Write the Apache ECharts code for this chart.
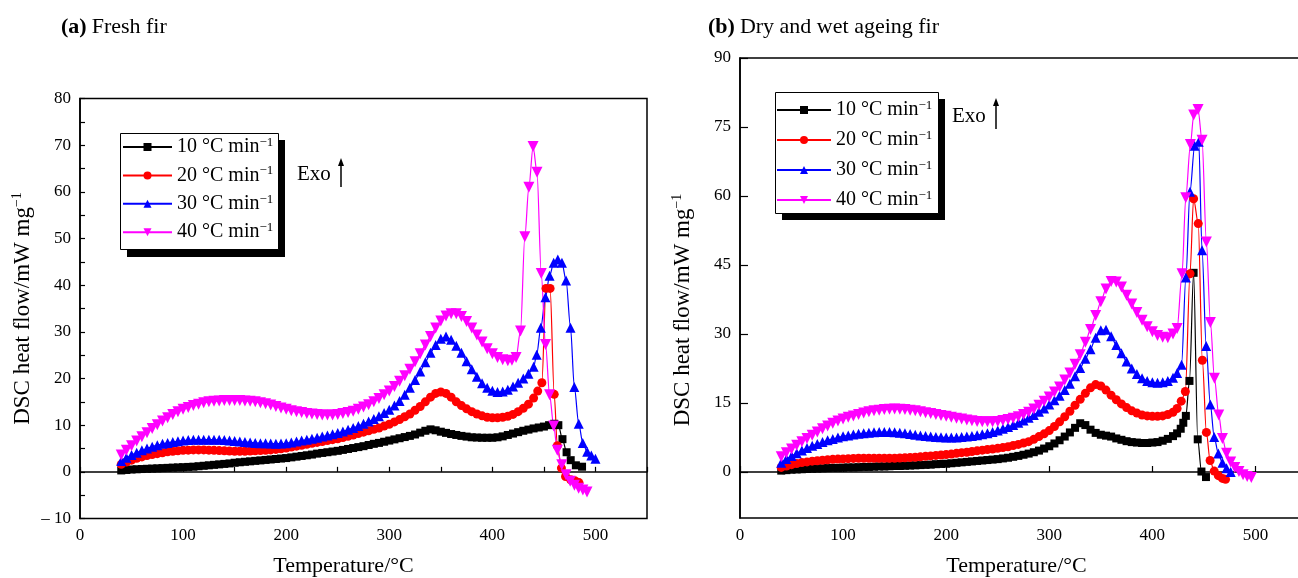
<!DOCTYPE html>
<html><head><meta charset="utf-8">
<script src="https://cdn.jsdelivr.net/npm/echarts@6/dist/echarts.min.js"></script>
<style>html,body{margin:0;padding:0;background:#fff}#c{width:1298px;height:578px}</style>
</head><body><div id="c"></div>
<script>
const rates = ['10 °C min−1', '20 °C min−1', '30 °C min−1', '40 °C min−1'];
const panelTitles = [['(a)', 'Fresh fir'], ['(b)', 'Dry and wet ageing fir']];
const xName = 'Temperature/°C';
const yName = 'DSC heat flow/mW mg';

// (a) Fresh fir  [temperature °C, heat flow mW/mg]
const fresh10 = [[40,0.3],[45,0.4],[50,0.5],[55,0.55],[60,0.6],[65,0.65],[70,0.7],[75,0.75],[80,0.8],[85,0.85],[90,0.9],[95,0.95],[100,1.0],[105,1.05],[110,1.1],[115,1.2],[120,1.3],[125,1.4],[130,1.5],[135,1.6],[140,1.7],[145,1.8],[150,1.95],[155,2.05],[160,2.15],[165,2.25],[170,2.35],[175,2.45],[180,2.55],[185,2.65],[190,2.75],[195,2.85],[200,2.95],[205,3.1],[210,3.25],[215,3.4],[220,3.55],[225,3.7],[230,3.9],[235,4.05],[240,4.2],[245,4.35],[250,4.5],[255,4.7],[260,4.9],[265,5.1],[270,5.3],[275,5.5],[280,5.75],[285,6.0],[290,6.2],[295,6.45],[300,6.7],[305,6.95],[310,7.2],[315,7.45],[320,7.7],[325,8.0],[330,8.4],[335,8.8],[340,9.1],[345,8.9],[350,8.6],[355,8.35],[360,8.1],[365,7.9],[370,7.7],[375,7.55],[380,7.4],[385,7.35],[390,7.3],[395,7.3],[400,7.3],[405,7.4],[410,7.6],[415,7.9],[420,8.2],[425,8.5],[430,8.8],[435,9.05],[440,9.3],[445,9.5],[450,9.7],[455,10.0],[460,10.3],[464,10.0],[468,7.0],[472,4.2],[476,2.5],[481,1.4],[487,1.1]];
const fresh20 = [[40,1.6],[45,2.1],[50,2.5],[55,2.9],[60,3.2],[65,3.5],[70,3.7],[75,3.9],[80,4.1],[85,4.3],[90,4.4],[95,4.5],[100,4.6],[105,4.65],[110,4.7],[115,4.7],[120,4.7],[125,4.65],[130,4.6],[135,4.55],[140,4.5],[145,4.45],[150,4.4],[155,4.4],[160,4.4],[165,4.45],[170,4.5],[175,4.55],[180,4.6],[185,4.7],[190,4.8],[195,4.95],[200,5.1],[205,5.3],[210,5.5],[215,5.7],[220,5.9],[225,6.1],[230,6.3],[235,6.5],[240,6.7],[245,6.9],[250,7.1],[255,7.35],[260,7.6],[265,7.9],[270,8.2],[275,8.5],[280,8.8],[285,9.1],[290,9.4],[295,9.8],[300,10.2],[305,10.7],[310,11.2],[315,11.8],[320,12.4],[325,13.2],[330,14.0],[335,15.0],[340,16.0],[345,16.8],[350,17.1],[355,16.8],[360,16.0],[365,15.0],[370,14.2],[375,13.5],[380,12.9],[385,12.4],[390,12.0],[395,11.7],[400,11.6],[405,11.6],[410,11.7],[415,11.9],[420,12.3],[425,12.9],[430,13.6],[435,14.5],[440,15.8],[444,17.3],[448,19.1],[452,39.3],[456,39.3],[460,16.6],[463,5.6],[467,0.8],[471,-1.0],[476,-1.7],[480,-1.9],[484,-2.3]];
const fresh30 = [[40,2.3],[45,3.0],[50,3.6],[55,4.1],[60,4.6],[65,5.0],[70,5.4],[75,5.7],[80,6.0],[85,6.2],[90,6.4],[95,6.55],[100,6.7],[105,6.8],[110,6.85],[115,6.9],[120,6.9],[125,6.9],[130,6.9],[135,6.85],[140,6.8],[145,6.7],[150,6.6],[155,6.5],[160,6.4],[165,6.3],[170,6.2],[175,6.15],[180,6.1],[185,6.05],[190,6.0],[195,6.05],[200,6.1],[205,6.3],[210,6.5],[215,6.7],[220,6.9],[225,7.1],[230,7.3],[235,7.55],[240,7.8],[245,8.05],[250,8.3],[255,8.65],[260,9.0],[265,9.4],[270,9.8],[275,10.3],[280,10.8],[285,11.3],[290,11.9],[295,12.6],[300,13.3],[305,14.2],[310,15.2],[315,16.5],[320,18.0],[325,19.7],[330,21.5],[335,23.5],[340,25.5],[345,27.2],[350,28.5],[355,29.0],[360,28.3],[365,27.0],[370,25.5],[375,23.7],[380,22.0],[385,20.4],[390,19.0],[395,18.0],[400,17.4],[405,17.1],[410,17.2],[415,17.6],[420,18.3],[425,19.1],[430,20.0],[435,21.0],[440,22.5],[443,25.1],[447,30.9],[451.5,37.4],[455.5,42.0],[459.5,44.8],[463.5,45.5],[467.5,44.8],[471.5,41.0],[475.8,30.9],[479.5,18.2],[483.8,10.3],[487.7,6.2],[492,4.3],[496,3.5],[500,2.8]];
const fresh40 = [[40,3.6],[45,4.6],[50,5.6],[55,6.6],[60,7.5],[65,8.4],[70,9.3],[75,10.1],[80,10.9],[85,11.6],[90,12.3],[95,12.9],[100,13.4],[105,13.8],[110,14.2],[115,14.5],[120,14.8],[125,15.0],[130,15.1],[135,15.2],[140,15.3],[145,15.3],[150,15.3],[155,15.3],[160,15.2],[165,15.1],[170,15.0],[175,14.8],[180,14.6],[185,14.3],[190,14.0],[195,13.7],[200,13.4],[205,13.1],[210,12.9],[215,12.7],[220,12.5],[225,12.4],[230,12.3],[235,12.2],[240,12.2],[245,12.2],[250,12.3],[255,12.5],[260,12.7],[265,13.0],[270,13.4],[275,13.9],[280,14.4],[285,15.0],[290,15.7],[295,16.5],[300,17.3],[305,18.3],[310,19.4],[315,20.6],[320,22.0],[325,23.6],[330,25.3],[335,27.2],[340,29.0],[345,30.8],[350,32.3],[355,33.4],[360,33.9],[365,33.9],[370,33.3],[375,32.2],[380,30.8],[385,29.3],[390,27.8],[395,26.4],[400,25.3],[405,24.5],[410,24.0],[415,23.8],[419,23.9],[423,24.5],[427.3,30.2],[431.5,50.4],[435.4,61.0],[439.5,69.7],[443.3,64.2],[447.4,42.5],[451.6,27.3],[455.5,16.5],[459.5,9.8],[463,4.6],[467.3,1.5],[471.4,-0.6],[475.5,-2.0],[479.6,-2.9],[483.7,-3.5],[487.8,-3.9],[491.8,-4.3]];

// (b) Dry and wet ageing fir
const aged10 = [[40,0.3],[45,0.4],[50,0.5],[55,0.55],[60,0.6],[65,0.65],[70,0.7],[75,0.75],[80,0.8],[85,0.85],[90,0.9],[95,0.9],[100,0.95],[105,1.0],[110,1.0],[115,1.05],[120,1.1],[125,1.1],[130,1.15],[135,1.2],[140,1.2],[145,1.25],[150,1.3],[155,1.3],[160,1.35],[165,1.4],[170,1.45],[175,1.5],[180,1.55],[185,1.6],[190,1.7],[195,1.75],[200,1.8],[205,1.9],[210,2.0],[215,2.1],[220,2.2],[225,2.3],[230,2.4],[235,2.5],[240,2.6],[245,2.7],[250,2.8],[255,2.95],[260,3.1],[265,3.3],[270,3.5],[275,3.75],[280,4.0],[285,4.3],[290,4.65],[295,5.1],[300,5.6],[305,6.2],[310,6.9],[315,7.7],[320,8.6],[325,9.6],[330,10.6],[335,10.2],[340,9.2],[345,8.5],[350,8.1],[355,7.9],[360,7.7],[365,7.3],[370,7.0],[375,6.7],[380,6.5],[385,6.4],[390,6.3],[395,6.3],[400,6.4],[405,6.5],[410,6.8],[415,7.2],[420,7.8],[424,8.4],[427.5,9.4],[430,10.7],[432.5,12.2],[436,19.8],[440,43.3],[444,7.1],[447.6,0.1],[452,-1.1]];
const aged20 = [[40,1.0],[45,1.3],[50,1.6],[55,1.85],[60,2.05],[65,2.2],[70,2.35],[75,2.45],[80,2.55],[85,2.65],[90,2.75],[95,2.8],[100,2.85],[105,2.9],[110,2.95],[115,3.0],[120,3.0],[125,3.0],[130,3.0],[135,3.0],[140,3.0],[145,3.0],[150,3.0],[155,3.05],[160,3.1],[165,3.15],[170,3.2],[175,3.3],[180,3.4],[185,3.5],[190,3.6],[195,3.7],[200,3.8],[205,3.9],[210,4.05],[215,4.2],[220,4.3],[225,4.45],[230,4.6],[235,4.75],[240,4.9],[245,5.0],[250,5.15],[255,5.3],[260,5.5],[265,5.75],[270,6.0],[275,6.3],[280,6.6],[285,7.1],[290,7.7],[295,8.3],[300,9.0],[305,9.9],[310,10.9],[315,12.0],[320,13.2],[325,14.5],[330,15.8],[335,17.1],[340,18.3],[345,19.0],[350,18.7],[355,17.8],[360,16.7],[365,15.7],[370,14.8],[375,14.0],[380,13.3],[385,12.8],[390,12.4],[395,12.2],[400,12.1],[405,12.1],[410,12.2],[415,12.5],[420,13.0],[424,13.8],[428,15.4],[432,17.5],[436.5,43.1],[440,59.4],[444.5,54.0],[448.5,24.3],[452.4,8.6],[456,2.5],[460,0.2],[464,-0.8],[468,-1.4],[471,-1.6]];
const aged30 = [[40,2.0],[45,2.8],[50,3.5],[55,4.1],[60,4.7],[65,5.2],[70,5.7],[75,6.1],[80,6.5],[85,6.9],[90,7.2],[95,7.5],[100,7.75],[105,7.95],[110,8.15],[115,8.3],[120,8.45],[125,8.55],[130,8.65],[135,8.7],[140,8.7],[145,8.7],[150,8.65],[155,8.55],[160,8.4],[165,8.25],[170,8.1],[175,7.95],[180,7.8],[185,7.7],[190,7.6],[195,7.55],[200,7.5],[205,7.5],[210,7.5],[215,7.6],[220,7.7],[225,7.85],[230,8.0],[235,8.2],[240,8.4],[245,8.7],[250,9.0],[255,9.4],[260,9.8],[265,10.2],[270,10.7],[275,11.2],[280,11.8],[285,12.4],[290,13.1],[295,13.8],[300,14.7],[305,15.6],[310,16.6],[315,17.8],[320,19.2],[325,20.8],[330,22.6],[335,24.6],[340,26.7],[345,29.2],[350,30.8],[355,30.9],[360,29.5],[365,27.6],[370,25.8],[375,24.0],[380,22.5],[385,21.3],[390,20.4],[395,19.8],[400,19.5],[405,19.4],[410,19.5],[415,19.8],[420,20.5],[424,21.5],[428.3,23.3],[432.5,42.3],[436.5,60.9],[441,70.9],[445,71.8],[448.2,48.2],[452.2,27.4],[456.2,14.7],[460,7.6],[464,4.0],[468,2.0],[472,0.8],[476,0.0]];
const aged40 = [[40,3.3],[45,4.2],[50,5.0],[55,5.8],[60,6.6],[65,7.3],[70,8.0],[75,8.7],[80,9.4],[85,10.0],[90,10.6],[95,11.1],[100,11.5],[105,11.9],[110,12.2],[115,12.5],[120,12.8],[125,13.1],[130,13.3],[135,13.45],[140,13.6],[145,13.65],[150,13.7],[155,13.65],[160,13.6],[165,13.45],[170,13.3],[175,13.1],[180,12.9],[185,12.7],[190,12.5],[195,12.3],[200,12.1],[205,11.9],[210,11.7],[215,11.5],[220,11.3],[225,11.15],[230,11.0],[235,10.95],[240,10.9],[245,10.95],[250,11.0],[255,11.2],[260,11.4],[265,11.7],[270,12.0],[275,12.5],[280,13.0],[285,13.7],[290,14.5],[295,15.4],[300,16.3],[305,17.4],[310,18.5],[315,20.0],[320,21.5],[325,23.4],[330,25.5],[335,28.2],[340,31.0],[345,34.0],[350,37.0],[355,39.8],[360,41.4],[365,41.3],[370,40.2],[375,38.4],[380,36.5],[385,34.7],[390,33.0],[395,31.6],[400,30.5],[405,29.7],[410,29.3],[415,29.2],[420,30.0],[424,31.2],[428.8,43.1],[432.4,59.6],[436.9,71.2],[440.1,77.6],[444.3,78.8],[448.2,72.1],[452.4,50.0],[456.3,32.5],[460.2,20.4],[464.4,12.4],[468,7.3],[472,4.1],[476,2.2],[480,1.0],[484,0.1],[488,-0.6],[492,-1.0],[496,-1.2]];

const xTickLabels = [0, 100, 200, 300, 400, 500];
const yTicksA = [-10, 0, 10, 20, 30, 40, 50, 60, 70, 80];
const yTicksB = [0, 15, 30, 45, 60, 75, 90];

const panels = [[fresh10, fresh20, fresh30, fresh40], [aged10, aged20, aged30, aged40]];
const colors = ['#000000', '#ff0000', '#0000ff', '#ff00ff'];
const symbols = ['rect', 'circle', 'triangle', 'triangle'];
const symbolRot = [0, 0, 0, 180];
const symbolSizes = [8, 9, 10, 11];
const F = "'Liberation Serif','Times New Roman',serif";

const chart = echarts.init(document.getElementById('c'), null, {renderer: 'canvas'});

const series = [];
panels.forEach((sets, p) => {
  sets.forEach((data, i) => {
    series.push({
      name: rates[i], type: 'line', xAxisIndex: p, yAxisIndex: p, data: data,
      symbol: symbols[i], symbolRotate: symbolRot[i], symbolSize: symbolSizes[i],
      smooth: 0.3, smoothMonotone: 'x',
      lineStyle: {color: colors[i], width: 1.2},
      itemStyle: {color: colors[i]},
      emphasis: {disabled: true}
    });
  });
});

const tickLabel = {color: '#000', fontFamily: F, fontSize: 17, margin: 9};
const richName = {
  n: {fontFamily: F, fontSize: 23, color: '#000'},
  s: {fontFamily: F, fontSize: 14, color: '#000', padding: [0, 0, 11, 0]}
};
const richLegend = {
  n: {fontFamily: F, fontSize: 20, color: '#000', lineHeight: 22},
  s: {fontFamily: F, fontSize: 13, color: '#000', lineHeight: 13, padding: [0, 0, 9, 0]}
};
const legendFmt = name => '{n|' + name.replace('−1', '') + '}{s|−1}';

const option = {
  animation: false,
  backgroundColor: '#fff',
  title: panelTitles.map((t, p) => ({
    text: '{b|' + t[0] + '} {r|' + t[1] + '}',
    left: p === 0 ? 61 : 708, top: 16, padding: 0,
    textStyle: {fontWeight: 'normal', rich: {
      b: {fontFamily: F, fontSize: 22, fontWeight: 'bold', color: '#000'},
      r: {fontFamily: F, fontSize: 22, color: '#000'}
    }}
  })),
  grid: [
    {left: 80, top: 98.5, width: 567, height: 420, show: true, borderColor: '#000', borderWidth: 1.5, containLabel: false, outerBoundsMode: 'none'},
    {left: 740, top: 58, width: 567, height: 460, show: true, borderColor: '#000', borderWidth: 1.5, containLabel: false, outerBoundsMode: 'none'}
  ],
  legend: [
    {data: rates, orient: 'vertical', left: 122, top: 136, padding: 0, itemWidth: 49, itemHeight: 10, itemGap: 6.4,
     selectedMode: false, z: 10, formatter: legendFmt, textStyle: {rich: richLegend, fontFamily: F, fontSize: 20, color: '#000'}},
    {data: rates, orient: 'vertical', left: 776, top: 99, padding: 0, itemWidth: 54, itemHeight: 10, itemGap: 8,
     selectedMode: false, z: 10, formatter: legendFmt, textStyle: {rich: richLegend, fontFamily: F, fontSize: 20, color: '#000'}}
  ],
  xAxis: [
    {gridIndex: 0, type: 'value', min: 0, max: 550, interval: 50,
     axisLine: {lineStyle: {color: '#000', width: 1.6}},
     axisTick: {inside: true, length: 5, lineStyle: {color: '#000', width: 1.2}},
     splitLine: {show: false},
     axisLabel: Object.assign({}, tickLabel, {formatter: v => xTickLabels.includes(v) ? String(v) : ''}),
     name: xName, nameLocation: 'middle', nameGap: 37,
     nameTextStyle: {fontFamily: F, fontSize: 22, color: '#000', padding: [0, 40, 0, 0]}},
    {gridIndex: 1, type: 'value', min: 0, max: 550, interval: 100,
     axisLine: {lineStyle: {color: '#000', width: 1.6}},
     axisTick: {inside: true, length: 6, lineStyle: {color: '#000', width: 1.2}},
     splitLine: {show: false},
     axisLabel: Object.assign({}, tickLabel, {formatter: v => xTickLabels.includes(v) ? String(v) : ''}),
     name: xName, nameLocation: 'middle', nameGap: 37,
     nameTextStyle: {fontFamily: F, fontSize: 22, color: '#000', padding: [0, 14, 0, 0]}}
  ],
  yAxis: [
    {gridIndex: 0, type: 'value', min: -10, max: 80, interval: 5,
     axisLine: {lineStyle: {color: '#000', width: 1.6}},
     axisTick: {inside: true, length: 5, lineStyle: {color: '#000', width: 1.2}},
     splitLine: {show: false},
     axisLabel: Object.assign({}, tickLabel, {formatter: v => yTicksA.includes(v) ? (v < 0 ? '\u2013 ' + Math.abs(v) : String(v)) : ''}),
     name: '{n|' + yName + '}{s|−1}', nameLocation: 'middle', nameGap: 45,
     nameTextStyle: {fontFamily: F, fontSize: 23, color: '#000', rich: richName}},
    {gridIndex: 1, type: 'value', min: -10, max: 90,
     axisLine: {lineStyle: {color: '#000', width: 1.6}},
     axisTick: {inside: true, length: 8, customValues: yTicksB, lineStyle: {color: '#000', width: 1.2}},
     splitLine: {show: false},
     axisLabel: Object.assign({}, tickLabel, {customValues: yTicksB}),
     name: '{n|' + yName + '}{s|−1}', nameLocation: 'middle', nameGap: 45,
     nameTextStyle: {fontFamily: F, fontSize: 23, color: '#000', rich: richName, padding: [0, 44, 0, 0]}}
  ],
  graphic: [
    {type: 'rect', z: 1, shape: {x: 127, y: 140, width: 158, height: 117}, style: {fill: '#000'}},
    {type: 'rect', z: 2, shape: {x: 120.5, y: 133.5, width: 158, height: 116}, style: {fill: '#fff', stroke: '#000', lineWidth: 1}},
    {type: 'text', z: 3, x: 297, y: 174, style: {text: 'Exo', fontFamily: F, fontSize: 21, fill: '#000', verticalAlign: 'middle'}},
    {type: 'line', z: 3, shape: {x1: 341, y1: 187, x2: 341, y2: 164}, style: {stroke: '#000', lineWidth: 1.5}},
    {type: 'polygon', z: 3, shape: {points: [[341, 158], [338, 166], [344, 166]]}, style: {fill: '#000'}},
    {type: 'rect', z: 1, shape: {x: 782, y: 99, width: 163, height: 121}, style: {fill: '#000'}},
    {type: 'rect', z: 2, shape: {x: 775.5, y: 92.5, width: 163, height: 121}, style: {fill: '#fff', stroke: '#000', lineWidth: 1}},
    {type: 'text', z: 3, x: 952, y: 116, style: {text: 'Exo', fontFamily: F, fontSize: 21, fill: '#000', verticalAlign: 'middle'}},
    {type: 'line', z: 3, shape: {x1: 996, y1: 129, x2: 996, y2: 104}, style: {stroke: '#000', lineWidth: 1.5}},
    {type: 'polygon', z: 3, shape: {points: [[996, 98], [993, 106], [999, 106]]}, style: {fill: '#000'}}
  ],
  series: series
};
chart.setOption(option);
</script>
</body></html>
